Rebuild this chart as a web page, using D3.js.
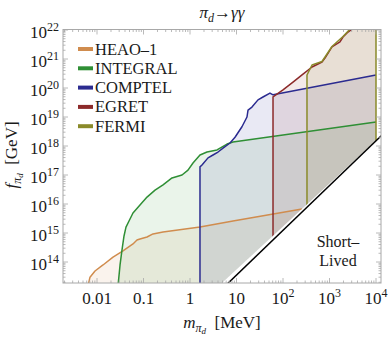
<!DOCTYPE html>
<html><head><meta charset="utf-8">
<script src="https://cdn.jsdelivr.net/npm/d3@7"></script>
<style>
body{margin:0;background:#fff}
svg{display:block}
text{font-family:"Liberation Serif","Times New Roman",serif;fill:#1a1a1a}
</style>
</head><body>
<svg id="c" width="390" height="337"></svg>
<script>
// ---------- data (mass in MeV, f in GeV) ----------
const seriesNames = ["HEAO\u20131", "INTEGRAL", "COMPTEL", "EGRET", "FERMI"];
const seriesColors = ["#d08c4e", "#2f8f35", "#2b2b90", "#8c2a2a", "#8a8a2a"];

const heaoM = [0.0064, 0.00707, 0.00906, 0.01346, 0.0221, 0.0362, 0.0594, 0.0724, 0.0841, 0.119, 0.16, 0.263, 1.64, 8.41, 256];
const heaoF = [1.5e13, 3.0e13, 4.9e13, 7.9e13, 1.48e14, 2.4e14, 4.2e14, 5.7e14, 6.2e14, 7.3e14, 9.3e14, 1.08e15, 1.6e15, 2.6e15, 6.7e15];

const integralM = [0.0283, 0.0313, 0.0345, 0.0381, 0.042, 0.0488, 0.0594, 0.0841, 0.119, 0.177, 0.263, 0.41, 0.673, 0.906, 1.16, 1.64, 2.32, 3.81, 6.25, 8.41, 1e4];
const integralF = [1.5e13, 7.9e13, 2.6e14, 7.9e14, 1.6e15, 2.6e15, 4.9e15, 9.3e15, 1.73e16, 3.0e16, 4.6e16, 7.9e16, 1.0e17, 1.48e17, 2.6e17, 4.9e17, 6.2e17, 7.3e17, 1.17e18, 1.38e18, 6.7e18];

const comptelM = [1.64, 1.64, 1.81, 2.44, 3.12, 4.0, 5.13, 7.25, 9.29, 13.1, 16.8, 17.7, 21.5, 29.0, 37.1, 52.5, 61, 1e4];
const comptelF = [1.5e13, 1.9e17, 2.2e17, 3.9e17, 4.9e17, 6.2e17, 8.5e17, 1.27e18, 2.0e18, 4.6e18, 1.0e19, 1.73e19, 2.2e19, 3.9e19, 4.9e19, 6.7e19, 5.8e19, 2.8e20];

const egretM = [61, 61, 100, 164, 269, 421, 690, 800, 1130, 1680, 1950, 2500, 3530];
const egretF = [1.5e13, 4.9e19, 8.6e19, 1.6e20, 3.0e20, 5.3e20, 7.9e20, 1.08e21, 2.6e21, 3.9e21, 5.74e21, 8.5e21, 1.27e22];

const fermiM = [328, 328, 421, 690, 1130, 1950, 3050, 1e4, 1e4];
const fermiF = [1.5e13, 2.8e20, 6.2e20, 8.2e20, 2.7e21, 6.0e21, 1.27e22, 2e22, 1.5e13];

// lifetime boundary (short-lived region lies below/right)
const blackM = [4.88, 1e4];
const blackF = [1.9e13, 1.55e18];

const xTickValues = [0.01, 0.1, 1, 10, 100, 1000, 10000];
const xTickLabels = [["0.01",""], ["0.1",""], ["1",""], ["10",""], ["10","2"], ["10","3"], ["10","4"]];
const yTickExps = [14, 15, 16, 17, 18, 19, 20, 21, 22];

// ---------- layout ----------
const L = 63, R = 381, T = 29.5, B = 283;
const svg = d3.select("#c");
const x = d3.scaleLog().domain([0.01, 1e4]).range([97, 376]);
const y = d3.scaleLog().domain([1e14, 1e22]).range([262, 30]);

const defs = svg.append("defs");
defs.append("clipPath").attr("id", "plot").append("rect")
  .attr("x", L).attr("y", T).attr("width", R - L).attr("height", B - T);

const p1 = [x(blackM[0]), y(blackF[0])], p2 = [x(blackM[1]), y(blackF[1])];
const s = (p2[1] - p1[1]) / (p2[0] - p1[0]);
const yAtR = p1[1] + s * (R - p1[0]);
const xAtB = p1[0] + (B - p1[1]) / s;
defs.append("clipPath").attr("id", "above").append("polygon")
  .attr("points", [[L, T], [R, T], [R, yAtR], [xAtB, B], [L, B]].map(p => p.join(",")).join(" "));

const zip = (M, F) => M.map((m, i) => [x(m), y(F[i])]);
const data = [
  {pts: zip(heaoM, heaoF), kind: "flat"},
  {pts: zip(integralM, integralF), kind: "flat"},
  {pts: zip(comptelM, comptelF), kind: "flat"},
  {pts: zip(egretM, egretF), kind: "top"},
  {pts: zip(fermiM, fermiF), kind: "closed"}
];
const xEnd = x(d3.max(comptelM));

const gFill = svg.append("g").attr("clip-path", "url(#plot)")
  .append("g").attr("clip-path", "url(#above)");
data.forEach((d, i) => {
  const pts = d.pts.slice();
  const x0 = pts[0][0], xl = pts[pts.length - 1][0];
  if (d.kind === "flat") { pts.push([xl, B + 5], [x0, B + 5]); }
  else if (d.kind === "top") { pts.push([xEnd, T - 5], [xEnd, B + 5], [x0, B + 5]); }
  else { pts.push([x0, B + 5]); }
  gFill.append("polygon").attr("points", pts.map(p => p.join(",")).join(" "))
    .attr("fill", seriesColors[i]).attr("fill-opacity", 0.1).attr("stroke", "none");
});

const line = d3.line();
const gLines = svg.append("g").attr("clip-path", "url(#plot)")
  .append("g").attr("clip-path", "url(#above)");
data.forEach((d, i) => {
  gLines.append("path").attr("d", line(d.pts)).attr("fill", "none")
    .attr("stroke", seriesColors[i]).attr("stroke-width", 1.5).attr("stroke-linejoin", "round");
});
svg.append("g").attr("clip-path", "url(#plot)").append("line")
  .attr("x1", xAtB - 3 / s).attr("y1", B + 3).attr("x2", R + 2).attr("y2", yAtR + 2 * s)
  .attr("stroke", "#000").attr("stroke-width", 1.5);

// ---------- frame & ticks ----------
const frameColor = "#a8a8a8";
svg.append("rect").attr("x", L).attr("y", T).attr("width", R - L).attr("height", B - T)
  .attr("fill", "none").attr("stroke", frameColor).attr("stroke-width", 1);
const gT = svg.append("g").attr("stroke", frameColor).attr("stroke-width", 0.8);
for (let e = -3; e <= 4; e++) for (let k = 1; k <= 9; k++) {
  const v = k * Math.pow(10, e), px = x(v);
  if (px < L || px > R) continue;
  const len = k === 1 ? 5 : 2.5;
  gT.append("line").attr("x1", px).attr("x2", px).attr("y1", B).attr("y2", B - len);
  gT.append("line").attr("x1", px).attr("x2", px).attr("y1", T).attr("y2", T + len);
}
for (let e = 13; e <= 22; e++) for (let k = 1; k <= 9; k++) {
  const v = k * Math.pow(10, e), py = y(v);
  if (py < T - 0.5 || py > B) continue;
  const len = k === 1 ? 5 : 2.5;
  gT.append("line").attr("y1", py).attr("y2", py).attr("x1", L).attr("x2", L + len);
  gT.append("line").attr("y1", py).attr("y2", py).attr("x1", R).attr("x2", R - len);
}

// tick labels
xTickValues.forEach((v, i) => {
  const t = svg.append("text").attr("x", x(v)).attr("y", 304).attr("text-anchor", "middle")
    .attr("font-size", 17);
  t.append("tspan").text(xTickLabels[i][0]);
  if (xTickLabels[i][1]) t.append("tspan").attr("dy", -7).attr("font-size", 12).text(xTickLabels[i][1]);
});
yTickExps.forEach(e => {
  const t = svg.append("text").attr("x", 59).attr("y", y(Math.pow(10, e)) + 8).attr("text-anchor", "end")
    .attr("font-size", 17);
  t.append("tspan").text("10");
  t.append("tspan").attr("dy", -7).attr("font-size", 12).text(String(e));
});

// axis titles
const tt = svg.append("text").attr("x", 222).attr("y", 18).attr("text-anchor", "middle").attr("font-size", 17);
tt.append("tspan").attr("font-style", "italic").text("\u03c0");
tt.append("tspan").attr("font-style", "italic").attr("font-size", 12).attr("dy", 4).text("d");
tt.append("tspan").attr("dy", -4).text("\u2192");
tt.append("tspan").attr("font-style", "italic").text("\u03b3\u03b3");

const xt = svg.append("text").attr("x", 222).attr("y", 328).attr("text-anchor", "middle").attr("font-size", 17);
xt.append("tspan").attr("font-style", "italic").text("m");
xt.append("tspan").attr("font-style", "italic").attr("font-size", 12).attr("dy", 4).text("\u03c0");
xt.append("tspan").attr("font-style", "italic").attr("font-size", 9).attr("dy", 2).text("d");
xt.append("tspan").attr("dy", -6).text("\u2002[MeV]");

const yt = svg.append("text").attr("transform", "translate(17,155) rotate(-90)").attr("text-anchor", "middle").attr("font-size", 17);
yt.append("tspan").attr("font-style", "italic").text("f");
yt.append("tspan").attr("font-style", "italic").attr("font-size", 12).attr("dy", 4).text("\u03c0");
yt.append("tspan").attr("font-style", "italic").attr("font-size", 9).attr("dy", 2).text("d");
yt.append("tspan").attr("dy", -6).text("\u2002[GeV]");

// short-lived label
svg.append("text").attr("x", 338).attr("y", 247).attr("text-anchor", "middle").attr("font-size", 16).text("Short\u2013");
svg.append("text").attr("x", 338).attr("y", 266).attr("text-anchor", "middle").attr("font-size", 16).text("Lived");

// legend
const lg = svg.append("g");
seriesNames.forEach((n, i) => {
  const ry = 49 + i * 19.3;
  lg.append("line").attr("x1", 78).attr("x2", 93).attr("y1", ry).attr("y2", ry)
    .attr("stroke", seriesColors[i]).attr("stroke-width", 4);
  lg.append("text").attr("x", 95).attr("y", ry + 5.5).attr("font-size", 16.5).text(n);
});
</script>
</body></html>
